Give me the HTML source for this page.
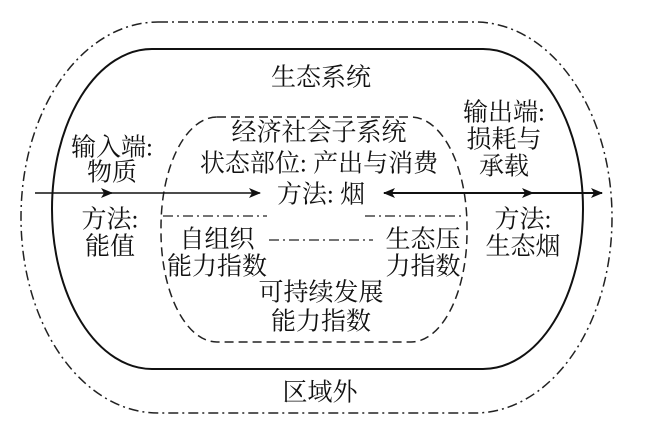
<!DOCTYPE html>
<html><head><meta charset="utf-8"><style>
html,body{margin:0;padding:0;background:#fff;}
svg text{font-family:"Liberation Serif","Noto Serif CJK SC","Noto Sans CJK SC",serif;font-size:25px;fill:#111;text-anchor:middle;dominant-baseline:central;}
</style></head><body>
<svg width="650" height="427" viewBox="0 0 650 427" xmlns="http://www.w3.org/2000/svg">
<defs>
<marker id="a" markerWidth="12" markerHeight="10" refX="11" refY="5" orient="auto" markerUnits="userSpaceOnUse"><path d="M0,0 L12,5 L0,10 L3,5 Z" fill="#111"/></marker>
</defs>
<rect x="21" y="22" width="591" height="391" rx="137" ry="195" fill="none" stroke="#222" stroke-width="1.5" stroke-dasharray="10,4,2,4"/>
<rect x="52" y="49" width="531" height="320" rx="100" ry="160" fill="none" stroke="#111" stroke-width="2"/>
<rect x="161" y="117" width="306" height="225" rx="56" ry="110" fill="none" stroke="#222" stroke-width="1.5" stroke-dasharray="9,5"/>
<line x1="35" y1="193" x2="112" y2="193" stroke="#111" stroke-width="1.5" marker-end="url(#a)"/>
<line x1="105" y1="193" x2="260" y2="193" stroke="#111" stroke-width="1.5" marker-end="url(#a)"/>
<line x1="531" y1="193" x2="384" y2="193" stroke="#111" stroke-width="2" marker-end="url(#a)"/>
<line x1="400" y1="193" x2="533" y2="193" stroke="#111" stroke-width="2" marker-end="url(#a)"/>
<line x1="525" y1="193" x2="602" y2="193" stroke="#111" stroke-width="2" marker-end="url(#a)"/>
<g stroke="#222" stroke-width="1.2" stroke-dasharray="10,4,2,4">
<line x1="163" y1="216" x2="267" y2="216"/>
<line x1="365" y1="216" x2="465" y2="216"/>
<line x1="269" y1="240" x2="373" y2="240"/>
</g>
<text x="321" y="78">生态系统</text>
<text x="319" y="133">经济社会子系统</text>
<text x="319" y="164">状态部位: 产出与消费</text>
<text x="321" y="195">方法: 烟</text>
<text x="112" y="148">输入端:</text>
<text x="112" y="173">物质</text>
<text x="110" y="220">方法:</text>
<text x="110" y="247">能值</text>
<text x="217" y="240">自组织</text>
<text x="217" y="267">能力指数</text>
<text x="423" y="240">生态压</text>
<text x="423" y="267">力指数</text>
<text x="321" y="293">可持续发展</text>
<text x="321" y="322">能力指数</text>
<text x="320" y="393">区域外</text>
<text x="504" y="113">输出端:</text>
<text x="504" y="140">损耗与</text>
<text x="504" y="167">承载</text>
<text x="523" y="220">方法:</text>
<text x="523" y="247">生态烟</text>
</svg>
</body></html>
